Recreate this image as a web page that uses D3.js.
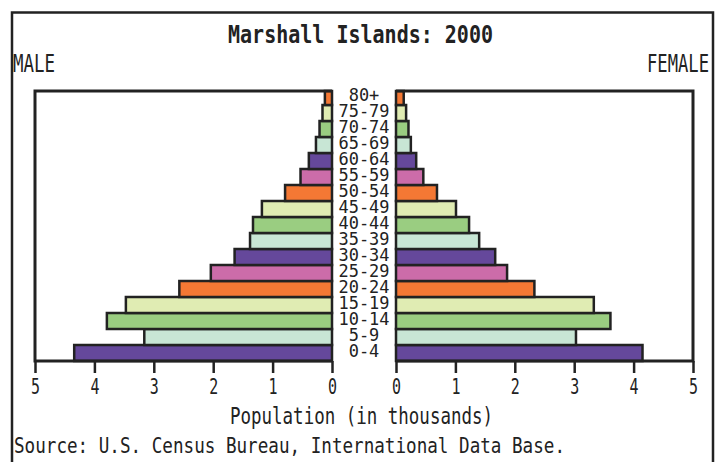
<!DOCTYPE html>
<html>
<head>
<meta charset="utf-8">
<script src="https://cdn.jsdelivr.net/npm/d3@7"></script>
<style>
  html, body { margin: 0; padding: 0; background: #fff; }
  svg { display: block; }
  text { font-family: "DejaVu Sans Mono", monospace; fill: #222; }
</style>
</head>
<body>
<svg id="chart" width="716" height="462"></svg>
<script>
// ---- data (thousands) ----
const ageGroups = ["0-4","5-9","10-14","15-19","20-24","25-29","30-34","35-39","40-44","45-49","50-54","55-59","60-64","65-69","70-74","75-79","80+"];
const male   = [4.34, 3.16, 3.79, 3.47, 2.57, 2.04, 1.64, 1.38, 1.33, 1.18, 0.79, 0.53, 0.39, 0.27, 0.21, 0.16, 0.12];
const female = [4.15, 3.03, 3.61, 3.33, 2.33, 1.87, 1.67, 1.40, 1.23, 1.01, 0.69, 0.46, 0.34, 0.25, 0.21, 0.17, 0.13];
const colorCycle = ["#65489b", "#c8e6d5", "#9acd81", "#e0ecb3", "#f47834", "#cc6ca9"];
const tickValues = [0, 1, 2, 3, 4, 5];
const title = "Marshall Islands: 2000";
const maleLabel = "MALE";
const femaleLabel = "FEMALE";
const xTitle = "Population (in thousands)";
const source = "Source: U.S. Census Bureau, International Data Base.";

const svg = d3.select("#chart");
const ink = "#222";

// scales
const xL = d3.scaleLinear().domain([0, 5]).range([332, 35]);
const xR = d3.scaleLinear().domain([0, 5]).range([396, 693]);
const y = d3.scaleBand().domain(ageGroups).range([361, 89]).paddingInner(0);
const yTop = 91, yBot = 361;

// outer frame
svg.append("path")
  .attr("d", "M12,470 L12,12.5 L713,12.5 L713,470")
  .attr("fill", "none").attr("stroke", ink).attr("stroke-width", 2.5);

// bars
const gBars = svg.append("g");
gBars.selectAll("rect.m").data(ageGroups).join("rect")
  .attr("class", "m")
  .attr("x", (d, i) => xL(male[i]))
  .attr("y", d => Math.max(y(d), yTop))
  .attr("width", (d, i) => xL(0) - xL(male[i]))
  .attr("height", d => y(d) + y.bandwidth() - Math.max(y(d), yTop))
  .attr("fill", (d, i) => colorCycle[i % colorCycle.length])
  .attr("stroke", ink).attr("stroke-width", 2.5);
gBars.selectAll("rect.f").data(ageGroups).join("rect")
  .attr("class", "f")
  .attr("x", xR(0))
  .attr("y", d => Math.max(y(d), yTop))
  .attr("width", (d, i) => xR(female[i]) - xR(0))
  .attr("height", d => y(d) + y.bandwidth() - Math.max(y(d), yTop))
  .attr("fill", (d, i) => colorCycle[i % colorCycle.length])
  .attr("stroke", ink).attr("stroke-width", 2.5);

// plot frames
svg.append("path")
  .attr("d", `M${xL(0)},${yTop} L${xL(5)},${yTop} L${xL(5)},${yBot} L${xL(0)},${yBot}`)
  .attr("fill", "none").attr("stroke", ink).attr("stroke-width", 3);
svg.append("path")
  .attr("d", `M${xR(0)},${yTop} L${xR(5)},${yTop} L${xR(5)},${yBot} L${xR(0)},${yBot}`)
  .attr("fill", "none").attr("stroke", ink).attr("stroke-width", 3);

// axes
function styleAxis(g) {
  g.select(".domain").remove();
  g.selectAll(".tick line").attr("stroke", ink).attr("stroke-width", 2.5);
  g.selectAll(".tick text")
    .attr("fill", ink)
    .style("font-size", "22px")
    .attr("dy", null)
    .attr("y", 33)
    .attr("textLength", 9).attr("lengthAdjust", "spacingAndGlyphs");
}
svg.append("g").attr("transform", `translate(0,${yBot})`)
  .call(d3.axisBottom(xL).tickValues(tickValues).tickSize(12).tickFormat(d3.format("d")))
  .call(styleAxis);
svg.append("g").attr("transform", `translate(0,${yBot})`)
  .call(d3.axisBottom(xR).tickValues(tickValues).tickSize(12).tickFormat(d3.format("d")))
  .call(styleAxis);

// age labels
svg.append("g").selectAll("text").data(ageGroups).join("text")
  .attr("x", 364)
  .attr("y", d => y(d) + y.bandwidth() / 2 + 4)
  .attr("text-anchor", "middle")
  .style("font-size", "18px")
  .attr("textLength", d => d.length * 10.2)
  .attr("lengthAdjust", "spacingAndGlyphs")
  .text(d => d);

// titles
svg.append("text").attr("x", 360.5).attr("y", 43).attr("text-anchor", "middle")
  .style("font-size", "25px").style("font-weight", "bold")
  .attr("textLength", 265).attr("lengthAdjust", "spacingAndGlyphs")
  .text(title);
svg.append("text").attr("x", 13).attr("y", 72)
  .style("font-size", "24px")
  .attr("textLength", 42).attr("lengthAdjust", "spacingAndGlyphs")
  .text(maleLabel);
svg.append("text").attr("x", 709).attr("y", 72).attr("text-anchor", "end")
  .style("font-size", "24px")
  .attr("textLength", 62).attr("lengthAdjust", "spacingAndGlyphs")
  .text(femaleLabel);
svg.append("text").attr("x", 361.5).attr("y", 424).attr("text-anchor", "middle")
  .style("font-size", "23px")
  .attr("textLength", 263).attr("lengthAdjust", "spacingAndGlyphs")
  .text(xTitle);
svg.append("text").attr("x", 14).attr("y", 453)
  .style("font-size", "22px")
  .attr("textLength", 551).attr("lengthAdjust", "spacingAndGlyphs")
  .text(source);
</script>
</body>
</html>
